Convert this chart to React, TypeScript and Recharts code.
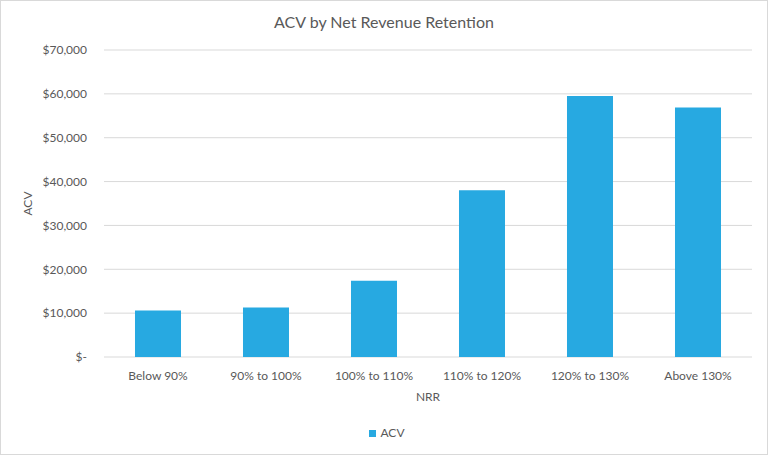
import React from 'react';
import { BarChart, Bar, XAxis, YAxis, CartesianGrid, Legend } from 'recharts';

const categories = ['Below 90%', '90% to 100%', '100% to 110%', '110% to 120%', '120% to 130%', 'Above 130%'];
const acvValues = [10600, 11300, 17400, 38000, 59500, 56900];
const yTicks = [0, 10000, 20000, 30000, 40000, 50000, 60000, 70000];

const data = categories.map((c, i) => ({ nrr: c, ACV: acvValues[i] }));

const FONT = 'Lato, "Open Sans", sans-serif';
const TEXT = '#595959';
const BAR = '#27A9E1';

const fmt = (v: number) => (v === 0 ? '$-' : '$' + v.toLocaleString('en-US'));

const YLabel = (props: any) => {
  const vb = props.viewBox || { x: 0, y: 0, width: 0, height: 0 };
  const cx = vb.x + 26;
  const cy = vb.y + vb.height / 2;
  return (
    <text
      x={cx}
      y={cy}
      transform={`rotate(-90, ${cx}, ${cy})`}
      textAnchor="middle"
      dominantBaseline="central"
      fill={TEXT}
      fontSize={12}
      fontFamily={FONT}
    >
      ACV
    </text>
  );
};

export default function App() {
  return (
    <div
      style={{
        position: 'absolute',
        left: 0,
        top: 0,
        width: 768,
        height: 455,
        boxSizing: 'border-box',
        border: '1px solid #d9d9d9',
        background: '#fff',
        fontFamily: FONT,
      }}
    >
      <div
        style={{
          position: 'absolute',
          top: 11,
          left: 0,
          width: 766,
          textAlign: 'center',
          fontSize: 16,
          color: TEXT,
          fontFamily: FONT,
        }}
      >
        ACV by Net Revenue Retention
      </div>
      <BarChart
        width={766}
        height={453}
        data={data}
        margin={{ top: 49, right: 15, left: 0, bottom: 32 }}
        barCategoryGap="28.7%"
      >
        <CartesianGrid vertical={false} stroke="#d9d9d9" />
        <XAxis
          dataKey="nrr"
          axisLine={false}
          tickLine={false}
          interval={0}
          height={50}
          tickMargin={8}
          tick={{ fill: TEXT, fontSize: 12, fontFamily: FONT }}
          label={{ value: 'NRR', position: 'insideBottom', offset: 6.5, fill: TEXT, fontSize: 12, fontFamily: FONT }}
        />
        <YAxis
          width={103}
          domain={[0, 70000]}
          ticks={yTicks}
          axisLine={false}
          tickLine={false}
          tickMargin={11}
          tickFormatter={fmt}
          tick={{ fill: TEXT, fontSize: 12, fontFamily: FONT }}
          label={{ content: <YLabel /> }}
        />
        <Legend
          verticalAlign="bottom"
          iconType="square"
          iconSize={7}
          formatter={(v: any) => <span style={{ color: TEXT, fontSize: 12, fontFamily: FONT }}>{v}</span>}
          wrapperStyle={{ left: 8, width: 766, top: 424, bottom: 'auto', fontFamily: FONT, fontSize: 12 }}
        />
        <Bar dataKey="ACV" fill={BAR} isAnimationActive={false} />
      </BarChart>
    </div>
  );
}
